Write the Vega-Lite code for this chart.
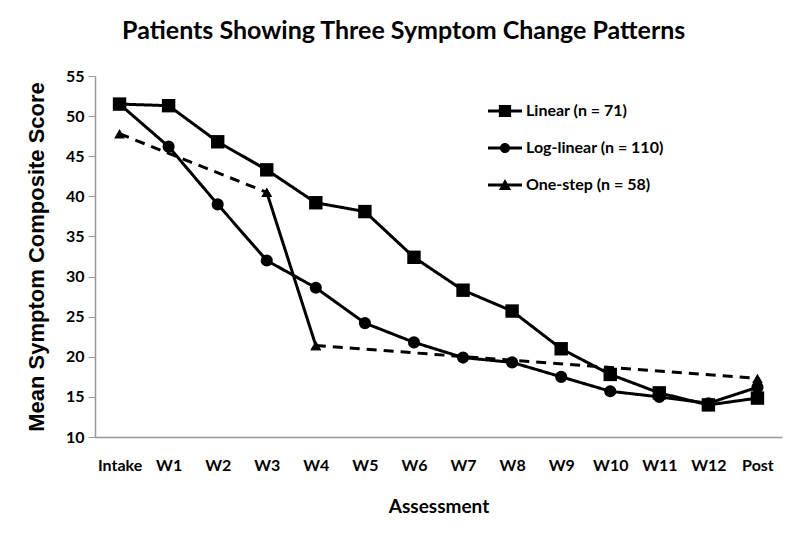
{
  "$schema": "https://vega.github.io/schema/vega-lite/v6.json",
  "width": 687,
  "height": 361,
  "autosize": {"type": "none"},
  "padding": {"left": 95, "top": 76, "right": 18, "bottom": 106},
  "background": "white",
  "title": {
    "text": "Patients Showing Three Symptom Change Patterns",
    "font": "Lato",
    "fontSize": 25,
    "fontWeight": "bold",
    "color": "black",
    "anchor": "middle",
    "frame": "bounds",
    "offset": 24
  },
  "data": {
    "values": [
      {"series": "Linear (n = 71)", "t": "Intake", "v": 51.5, "seg": "L", "dash": "solid"},
      {"series": "Linear (n = 71)", "t": "W1", "v": 51.3, "seg": "L", "dash": "solid"},
      {"series": "Linear (n = 71)", "t": "W2", "v": 46.8, "seg": "L", "dash": "solid"},
      {"series": "Linear (n = 71)", "t": "W3", "v": 43.3, "seg": "L", "dash": "solid"},
      {"series": "Linear (n = 71)", "t": "W4", "v": 39.2, "seg": "L", "dash": "solid"},
      {"series": "Linear (n = 71)", "t": "W5", "v": 38.1, "seg": "L", "dash": "solid"},
      {"series": "Linear (n = 71)", "t": "W6", "v": 32.4, "seg": "L", "dash": "solid"},
      {"series": "Linear (n = 71)", "t": "W7", "v": 28.3, "seg": "L", "dash": "solid"},
      {"series": "Linear (n = 71)", "t": "W8", "v": 25.7, "seg": "L", "dash": "solid"},
      {"series": "Linear (n = 71)", "t": "W9", "v": 21.0, "seg": "L", "dash": "solid"},
      {"series": "Linear (n = 71)", "t": "W10", "v": 17.8, "seg": "L", "dash": "solid"},
      {"series": "Linear (n = 71)", "t": "W11", "v": 15.5, "seg": "L", "dash": "solid"},
      {"series": "Linear (n = 71)", "t": "W12", "v": 14.0, "seg": "L", "dash": "solid"},
      {"series": "Linear (n = 71)", "t": "Post", "v": 14.85, "seg": "L", "dash": "solid"},
      {"series": "Log-linear (n = 110)", "t": "Intake", "v": 51.5, "seg": "G", "dash": "solid"},
      {"series": "Log-linear (n = 110)", "t": "W1", "v": 46.2, "seg": "G", "dash": "solid"},
      {"series": "Log-linear (n = 110)", "t": "W2", "v": 39.0, "seg": "G", "dash": "solid"},
      {"series": "Log-linear (n = 110)", "t": "W3", "v": 32.0, "seg": "G", "dash": "solid"},
      {"series": "Log-linear (n = 110)", "t": "W4", "v": 28.6, "seg": "G", "dash": "solid"},
      {"series": "Log-linear (n = 110)", "t": "W5", "v": 24.2, "seg": "G", "dash": "solid"},
      {"series": "Log-linear (n = 110)", "t": "W6", "v": 21.8, "seg": "G", "dash": "solid"},
      {"series": "Log-linear (n = 110)", "t": "W7", "v": 19.9, "seg": "G", "dash": "solid"},
      {"series": "Log-linear (n = 110)", "t": "W8", "v": 19.3, "seg": "G", "dash": "solid"},
      {"series": "Log-linear (n = 110)", "t": "W9", "v": 17.5, "seg": "G", "dash": "solid"},
      {"series": "Log-linear (n = 110)", "t": "W10", "v": 15.7, "seg": "G", "dash": "solid"},
      {"series": "Log-linear (n = 110)", "t": "W11", "v": 15.0, "seg": "G", "dash": "solid"},
      {"series": "Log-linear (n = 110)", "t": "W12", "v": 14.2, "seg": "G", "dash": "solid"},
      {"series": "Log-linear (n = 110)", "t": "Post", "v": 16.2, "seg": "G", "dash": "solid"},
      {"series": "One-step (n = 58)", "t": "Intake", "v": 47.8, "seg": "O1", "dash": "dashed"},
      {"series": "One-step (n = 58)", "t": "W3", "v": 40.5, "seg": "O1", "dash": "dashed"},
      {"series": "One-step (n = 58)", "t": "W3", "v": 40.5, "seg": "O2", "dash": "solid"},
      {"series": "One-step (n = 58)", "t": "W4", "v": 21.4, "seg": "O2", "dash": "solid"},
      {"series": "One-step (n = 58)", "t": "W4", "v": 21.4, "seg": "O3", "dash": "dashed"},
      {"series": "One-step (n = 58)", "t": "Post", "v": 17.3, "seg": "O3", "dash": "dashed"}
    ]
  },
  "encoding": {
    "x": {
      "field": "t",
      "type": "ordinal",
      "sort": ["Intake", "W1", "W2", "W3", "W4", "W5", "W6", "W7", "W8", "W9", "W10", "W11", "W12", "Post"],
      "scale": {"domain": ["Intake", "W1", "W2", "W3", "W4", "W5", "W6", "W7", "W8", "W9", "W10", "W11", "W12", "Post"], "paddingInner": 0, "paddingOuter": 0},
      "axis": {
        "title": "Assessment",
        "labelAngle": 0,
        "ticks": false,
        "labelPadding": 20,
        "titlePadding": 24,
        "domainColor": "#999999",
        "domainWidth": 1.5,
        "labelFont": "Lato",
        "labelFontSize": 16,
        "labelFontWeight": "bold",
        "labelColor": "black",
        "titleFont": "Lato",
        "titleFontSize": 19,
        "titleFontWeight": "bold",
        "titleColor": "black"
      }
    },
    "y": {
      "field": "v",
      "type": "quantitative",
      "scale": {"domain": [10, 55], "nice": false, "zero": false},
      "axis": {
        "title": "Mean Symptom Composite Score",
        "values": [10, 15, 20, 25, 30, 35, 40, 45, 50, 55],
        "grid": false,
        "tickSize": 7,
        "tickColor": "#999999",
        "domainColor": "#999999",
        "domainWidth": 1.5,
        "labelPadding": 4,
        "labelFont": "Lato",
        "labelFontSize": 16,
        "labelFontWeight": "bold",
        "labelColor": "black",
        "titleFont": "Liberation Sans",
        "titleFontSize": 22,
        "titleFontWeight": "bold",
        "titleColor": "black",
        "titlePadding": 17
      }
    }
  },
  "layer": [
    {
      "mark": {"type": "line", "color": "black", "strokeWidth": 3},
      "encoding": {
        "detail": {"field": "seg"},
        "strokeDash": {
          "field": "dash",
          "type": "nominal",
          "scale": {"domain": ["solid", "dashed"], "range": [[1, 0], [10, 7]]},
          "legend": null
        }
      }
    },
    {
      "mark": {"type": "point", "filled": true, "color": "black", "opacity": 1, "strokeWidth": 0},
      "encoding": {
        "shape": {
          "field": "series",
          "type": "nominal",
          "scale": {"domain": ["Linear (n = 71)", "Log-linear (n = 110)", "One-step (n = 58)"], "range": ["square", "circle", "triangle-up"]},
          "legend": null
        },
        "size": {
          "field": "series",
          "type": "nominal",
          "scale": {"domain": ["Linear (n = 71)", "Log-linear (n = 110)", "One-step (n = 58)"], "range": [180, 115, 140]},
          "legend": null
        }
      }
    },
    {
      "mark": {"type": "point", "filled": true, "color": "black", "opacity": 0},
      "encoding": {
        "shape": {
          "field": "series",
          "type": "nominal",
          "scale": {
            "domain": ["Linear (n = 71)", "Log-linear (n = 110)", "One-step (n = 58)"],
            "range": [
              "M-1,-0.09H1V0.09H-1Z M-0.36,-0.36H0.36V0.36H-0.36Z",
              "M-1,-0.09H1V0.09H-1Z M-0.3,0A0.3,0.3 0 1,1 0.3,0A0.3,0.3 0 1,1 -0.3,0Z",
              "M-1,-0.09H1V0.09H-1Z M0,-0.36L0.36,0.3H-0.36Z"
            ]
          },
          "legend": {
            "title": null,
            "orient": "none",
            "legendX": 393,
            "legendY": 18,
            "symbolSize": 1156,
            "symbolFillColor": "black",
            "symbolStrokeColor": "black",
            "symbolStrokeWidth": 0,
            "symbolOpacity": 1,
            "rowPadding": 12,
            "labelOffset": 4,
            "labelFont": "Lato",
            "labelFontSize": 16,
            "labelFontWeight": "bold",
            "labelColor": "black",
            "labelLimit": 300,
            "encode": {"symbols": {"update": {"opacity": {"value": 1}, "fill": {"value": "black"}}}}
          }
        }
      }
    }
  ],
  "resolve": {"scale": {"shape": "independent"}},
  "config": {"view": {"stroke": null}}
}
